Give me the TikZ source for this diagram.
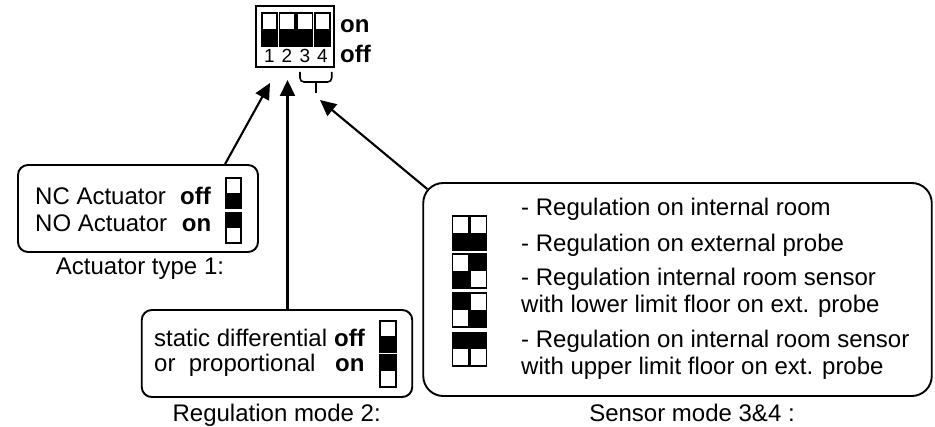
\documentclass[tikz,border=0pt]{standalone}
\usepackage{fontspec}
\setmainfont{Liberation Sans}
\usepackage{tikz}
\usetikzlibrary{arrows.meta,calc}

\newcommand{\swoff}[4]{\fill (#1,{(#2+#4)/2}) rectangle (#3,#4); \draw[line width=1.2pt] (#1,#2) rectangle (#3,#4);}
\newcommand{\swon}[4]{\fill (#1,#2) rectangle (#3,{(#2+#4)/2}); \draw[line width=1.2pt] (#1,#2) rectangle (#3,#4);}

\begin{document}
\begin{tikzpicture}[x=1pt,y=-1pt]
\tikzstyle{every node}=[font=\fontsize{24}{29}\selectfont]
\tikzstyle{box}=[draw, rounded corners=10pt, inner sep=0pt, line width=1.9pt]
\tikzstyle{lbl}=[inner sep=0pt, anchor=base west]
\tikzstyle{captxt}=[inner sep=0pt, anchor=base]
\tikzstyle{num}=[inner sep=0pt, anchor=base, font=\fontsize{19}{23}\selectfont]
\tikzstyle{arr}=[line width=2.1pt, -{Triangle[length=16pt,width=15pt]}]
\useasboundingbox (0,0) rectangle (935,427);

\node[draw, line width=1.4pt, minimum width=78pt, minimum height=61pt, inner sep=0pt] (dip) at (295,36.5) {};
\swoff{262}{13}{277}{46}
\swoff{279.5}{13}{295}{46}
\swoff{297}{13}{312.5}{46}
\swoff{315}{13}{330}{46}
\node[num] (n1) at (269.5,63) {1};
\node[num] (n2) at (287,63) {2};
\node[num] (n3) at (305,63) {3};
\node[num] (n4) at (322.5,63) {4};
\node[lbl, font=\fontsize{24}{29}\selectfont\bfseries] (on) at (340,33) {on};
\node[lbl, font=\fontsize{24}{29}\selectfont\bfseries] (off) at (340,63) {off};
\draw[line width=1.6pt, rounded corners=4pt] (300,72) -- (300,82) -- (331.7,82) -- (331.7,72);
\draw[line width=1.6pt] (315.8,82) -- (315.8,93);

\coordinate (t1) at (270,83);
\coordinate (t2) at (287.5,80);
\coordinate (t34) at (320,100);

\node[box, minimum width=240pt, minimum height=87pt] (act) at (138,208.5) {};
\node[lbl] (nc) at (35,205) {NC Actuator};
\node[lbl, font=\fontsize{24}{29}\selectfont\bfseries] (acoff) at (180,205) {off};
\node[lbl] (no) at (35,231.7) {NO Actuator};
\node[lbl, font=\fontsize{24}{29}\selectfont\bfseries] (acon) at (181.7,231.7) {on};
\swoff{226}{178}{241}{208}
\swon{226}{213}{241}{243}
\node[captxt] (actcap) at (140,275) {Actuator type 1:};

\node[box, minimum width=270.5pt, minimum height=87pt] (reg) at (277,353.5) {};
\node[lbl] (stat) at (154,347) {static differential};
\node[lbl, font=\fontsize{24}{29}\selectfont\bfseries] (regoff) at (334,347) {off};
\node[lbl] (prop) at (154,372) {or\ \ proportional};
\node[lbl, font=\fontsize{24}{29}\selectfont\bfseries] (regon) at (335,372) {on};
\swoff{380}{321}{396}{352}
\swon{380}{355}{396}{387}
\node[captxt] (regcap) at (276.7,421.7) {Regulation mode 2:};

\node[box, rounded corners=20pt, minimum width=508.5pt, minimum height=213pt] (sens) at (677.5,289.5) {};
\swoff{452.5}{216}{468.3}{250}
\swoff{470}{216}{486.5}{250}
\swoff{452.5}{254}{468.3}{288}
\swon{470}{254}{486.5}{288}
\swon{452.5}{293}{468.3}{327}
\swoff{470}{293}{486.5}{327}
\swon{452.5}{333}{468.3}{366}
\swon{470}{333}{486.5}{366}
\node[lbl] (s1) at (521,216) {- Regulation on internal room};
\node[lbl] (s2) at (521,251.5) {- Regulation on external probe};
\node[lbl] (s3) at (521,286) {- Regulation internal room sensor};
\node[lbl] (s3b) at (521,313) {with lower limit floor on ext. probe};
\node[lbl] (s4) at (521,348) {- Regulation on internal room sensor};
\node[lbl] (s4b) at (521,375) {with upper limit floor on ext. probe};
\node[captxt] (senscap) at (692,421.7) {Sensor mode 3\&4 :};

\draw[arr] ($(act.north west)!0.86!(act.north east)$) -- (t1);
\draw[arr] (reg.north -| t2) -- (t2);
\draw[arr] ($(sens.north west)+(5,7)$) -- (t34);
\end{tikzpicture}
\end{document}
